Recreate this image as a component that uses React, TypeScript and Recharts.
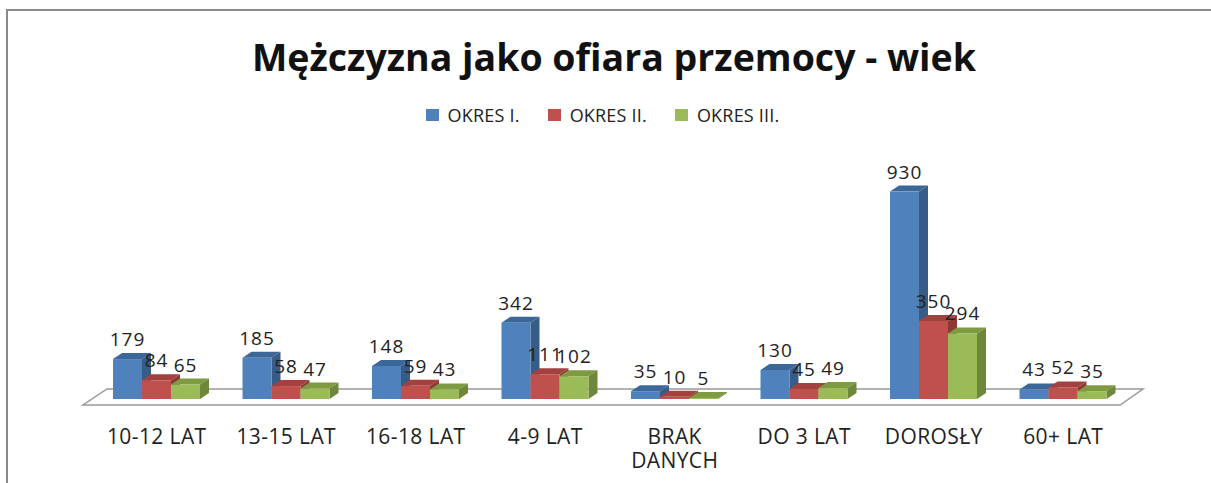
import { Bar, BarChart, LabelList, Legend, ReferenceArea, XAxis, YAxis } from "recharts";

const categories = ["10-12 LAT", "13-15 LAT", "16-18 LAT", "4-9 LAT", "BRAK\nDANYCH", "DO 3 LAT", "DOROSŁY", "60+ LAT"];
const okres1 = [179, 185, 148, 342, 35, 130, 930, 43];
const okres2 = [84, 58, 59, 111, 10, 45, 350, 52];
const okres3 = [65, 47, 43, 102, 5, 49, 294, 35];
const seriesNames = ["OKRES I.", "OKRES II.", "OKRES III."];

const data = categories.map((name, i) => ({
  name,
  a: okres1[i],
  b: okres2[i],
  c: okres3[i],
}));

const FONT = "'Open Sans', 'DejaVu Sans', sans-serif";
const DX = 9;
const DY = 6;

// front, top, side
const palette = [
  ["#4F81BD", "#3C6899", "#375C88"],
  ["#C0504D", "#A2413E", "#8E3835"],
  ["#9BBB59", "#7E9B42", "#6E873A"],
];

const box3d = (front: string, top: string, side: string) => (p: any) => {
  const { x, y, width, height } = p;
  if (x == null || !width) return <g />;
  const h = Math.max(height, 0);
  return (
    <g>
      <polygon
        points={`${x},${y} ${x + width},${y} ${x + width + DX},${y - DY} ${x + DX},${y - DY}`}
        fill={top}
      />
      <polygon
        points={`${x + width},${y} ${x + width + DX},${y - DY} ${x + width + DX},${y + h - DY} ${x + width},${y + h}`}
        fill={side}
      />
      <rect x={x} y={y} width={width} height={h} fill={front} />
    </g>
  );
};

const Floor = (p: any) => {
  const { x, y, width } = p;
  const pts = [
    [x - 9, y + 6],
    [x + width - 8, y + 6],
    [x + width + 15, y - 10],
    [x + 15, y - 10],
  ]
    .map((q) => q.join(","))
    .join(" ");
  return <polygon points={pts} fill="#fff" stroke="#999" strokeWidth={1.5} />;
};

const CatTick = (p: any) => {
  const lines = String(p.payload.value).split("\n");
  return (
    <text x={p.x} y={p.y + 37} textAnchor="middle" fill="#222" fontSize={21} letterSpacing={0.4} fontFamily={FONT}>
      {lines.map((l, i) => (
        <tspan key={i} x={p.x} dy={i === 0 ? 0 : 24}>
          {l}
        </tspan>
      ))}
    </text>
  );
};

const valueLabel = (p: any) => (
  <text
    x={p.x + p.width / 2}
    y={p.y - 13}
    textAnchor="middle"
    fill="#222"
    fontSize={19}
    letterSpacing={1}
    fontFamily={FONT}
  >
    {p.value}
  </text>
);

const LegendBox = (props: any) => (
  <div style={{ display: "flex", justifyContent: "center", paddingLeft: 22, fontFamily: FONT }}>
    {(props.payload || []).map((e: any, i: number) => (
      <div key={i} style={{ display: "flex", alignItems: "center", marginRight: 28 }}>
        <span
          style={{ width: 13, minWidth: 13, height: 12, background: e.color, display: "inline-block", marginRight: 9, flexShrink: 0 }}
        />
        <span style={{ fontSize: 18, color: "#222", letterSpacing: 0.2 }}>{e.value}</span>
      </div>
    ))}
  </div>
);

export default function App() {
  return (
    <div
      style={{
        position: "fixed",
        left: 0,
        top: 0,
        width: 1211,
        height: 483,
        overflow: "hidden",
        background: "#fff",
      }}
    >
      <style>{"html,body{overflow:hidden;margin:0;}"}</style>
      <div style={{ position: "absolute", left: 6, top: 9, width: 1220, height: 2, background: "#8a8a8a" }} />
      <div style={{ position: "absolute", left: 6, top: 9, width: 2, height: 480, background: "#8a8a8a" }} />
      <div
        style={{
          position: "absolute",
          left: 0,
          top: 31,
          width: 1228,
          textAlign: "center",
          fontFamily: FONT,
          fontWeight: 700,
          fontSize: 37.5,
          color: "#111",
        }}
      >
        Mężczyzna jako ofiara przemocy - wiek
      </div>
      <div style={{ position: "absolute", left: 0, top: 0 }}>
        <BarChart
          width={1211}
          height={483}
          data={data}
          margin={{ top: 176, right: 83, left: 92, bottom: 30 }}
          barSize={29}
          barGap={0}
        >
          <XAxis dataKey="name" axisLine={false} tickLine={false} interval={0} height={54} tick={<CatTick />} />
          <YAxis hide domain={[0, 1000]} />
          <ReferenceArea
            x1={categories[0]}
            x2={categories[categories.length - 1]}
            y1={0}
            y2={0}
            ifOverflow="visible"
            shape={<Floor />}
          />
          <Legend
            layout="horizontal"
            verticalAlign="middle"
            align="center"
            wrapperStyle={{ top: 103, left: 0, width: 1211, height: 24 }}
            content={<LegendBox />}
          />
          <Bar dataKey="a" name={seriesNames[0]} fill={palette[0][0]} shape={box3d(palette[0][0], palette[0][1], palette[0][2])} isAnimationActive={false}>
            <LabelList dataKey="a" content={valueLabel} />
          </Bar>
          <Bar dataKey="b" name={seriesNames[1]} fill={palette[1][0]} shape={box3d(palette[1][0], palette[1][1], palette[1][2])} isAnimationActive={false}>
            <LabelList dataKey="b" content={valueLabel} />
          </Bar>
          <Bar dataKey="c" name={seriesNames[2]} fill={palette[2][0]} shape={box3d(palette[2][0], palette[2][1], palette[2][2])} isAnimationActive={false}>
            <LabelList dataKey="c" content={valueLabel} />
          </Bar>
        </BarChart>
      </div>
    </div>
  );
}
